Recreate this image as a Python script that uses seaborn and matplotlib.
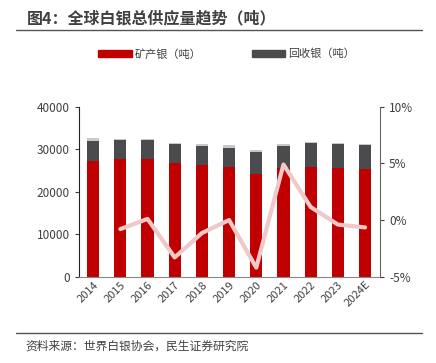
import numpy as np
import pandas as pd
import matplotlib
matplotlib.use('Agg')
import matplotlib.pyplot as plt
import seaborn as sns
from matplotlib.patches import Patch

years = ['2014', '2015', '2016', '2017', '2018', '2019', '2020', '2021', '2022', '2023', '2024E']
mine = [27200, 27700, 27750, 26700, 26200, 25750, 24100, 25600, 25750, 25600, 25350]
recycled = [4800, 4450, 4500, 4450, 4600, 4600, 5200, 5250, 5650, 5700, 5550]
other = [700, 300, 200, 300, 350, 650, 550, 400, 250, 250, 300]
growth = [np.nan, -0.8, 0.1, -3.3, -1.15, 0.0, -4.2, 4.9, 1.15, -0.4, -0.65]

sns.set_style('white')
plt.rcParams['font.family'] = ['Noto Sans CJK SC', 'DejaVu Sans']
plt.rcParams['axes.unicode_minus'] = False

df = pd.DataFrame({'year': years, 'mine': mine, 'recycled': recycled, 'other': other})
df['top2'] = df['mine'] + df['recycled']
df['total'] = df['top2'] + df['other']

red = '#C00000'
dark = '#4B4B4D'
light = '#C8C8C8'
tick_c = '#404040'

fig = plt.figure(figsize=(4.36, 3.63), dpi=100)
ax = fig.add_axes([79/436, 1-276.7/363, (380-79)/436, (276.7-106.7)/363])

for col, c in [('total', light), ('top2', dark), ('mine', red)]:
    sns.barplot(data=df, x='year', y=col, color=c, width=0.45, ax=ax,
                saturation=1, linewidth=0, edgecolor='none')
ax.set_ylim(0, 40000)
ax.set_yticks([0, 10000, 20000, 30000, 40000])
ax.set_xlim(-0.52, 10.55)
ax.set_xlabel('')
ax.set_ylabel('')
ax.tick_params(axis='x', labelrotation=45, labelsize=8, colors=tick_c, length=0, pad=2)
for lab in ax.get_xticklabels():
    lab.set_ha('right')
    lab.set_rotation_mode('anchor')
ax.tick_params(axis='y', labelsize=8.5, colors=tick_c, length=3, direction='out', left=True, width=0.8)
for s in ['top', 'right']:
    ax.spines[s].set_visible(False)
ax.spines['left'].set_color('#222222')
ax.spines['bottom'].set_color('#888888')

ax2 = ax.twinx()
line_df = pd.DataFrame({'pos': np.arange(len(years)), 'g': growth}).dropna()
sns.lineplot(data=line_df, x='pos', y='g', color='#F0C8C8', lw=3, ax=ax2)
ax2.set_ylim(-5, 10)
ax2.set_yticks([-5, 0, 5, 10])
ax2.set_yticklabels(['-5%', '0%', '5%', '10%'])
ax2.set_ylabel('')
ax2.tick_params(axis='y', labelsize=8.5, colors=tick_c, length=3, direction='out', right=True, width=0.8)
for s in ['top', 'left', 'bottom']:
    ax2.spines[s].set_visible(False)
ax2.spines['right'].set_color('#666666')

handles = [Patch(color=red), Patch(color=dark)]
fig.legend(handles, ['矿产银（吨）', '回收银（吨）'], loc='center',
           bbox_to_anchor=(0.52, 1-54/363), bbox_transform=fig.transFigure,
           ncol=2, frameon=False, fontsize=8, handlelength=3.0, handleheight=0.6,
           columnspacing=4.5, handletextpad=0.3, labelcolor='#404040')

fig.text(27/436, 1-18/363, '图4：全球白银总供应量趋势（吨）', fontsize=11.5, fontweight='bold',
         color='#404040', va='center', ha='left')
fig.add_artist(plt.Line2D([16/436, 422/436], [1-30/363, 1-30/363], color='#555555', lw=1))
fig.add_artist(plt.Line2D([16/436, 422/436], [1-333/363, 1-333/363], color='#555555', lw=1))
fig.text(25/436, 1-346/363, '资料来源：世界白银协会，民生证券研究院', fontsize=8.5,
         color='#404040', va='center', ha='left')

fig.savefig('out.png', dpi=100)
